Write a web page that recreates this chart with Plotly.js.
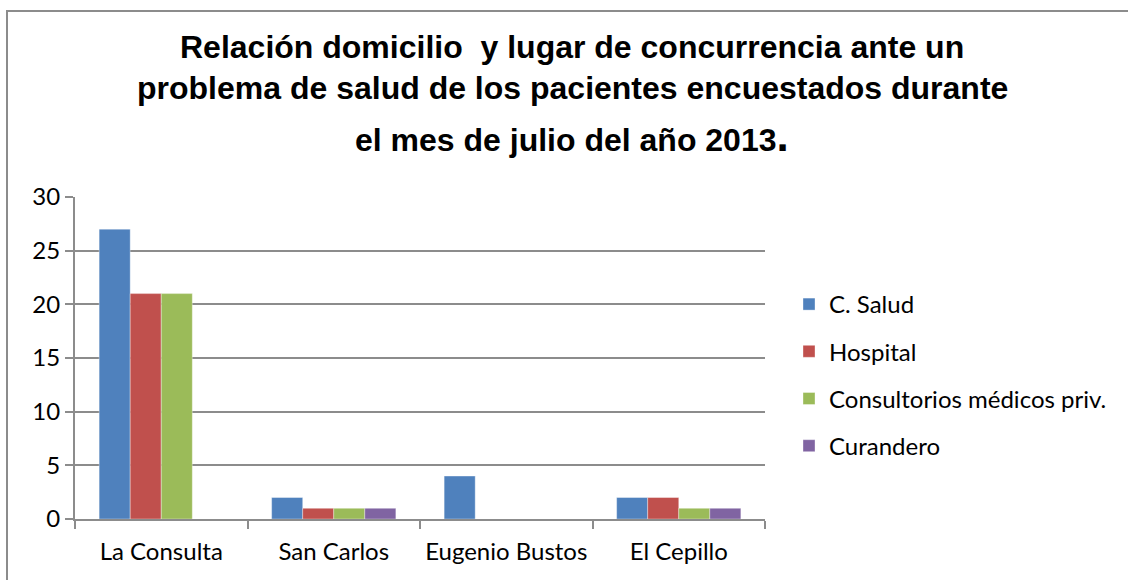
<!DOCTYPE html>
<html>
<head>
<meta charset="utf-8">
<script src="https://cdn.plot.ly/plotly-3.0.1.min.js"></script>
<style>
html,body{margin:0;padding:0;background:#fff;overflow:hidden;}
#frame{position:absolute;left:6px;top:10px;width:1200px;height:600px;border-left:2px solid #8c8c8c;border-top:2px solid #8c8c8c;}
#chart{position:absolute;left:0;top:0;width:1128px;height:580px;}
</style>
</head>
<body>
<div id="frame"></div>
<div id="chart"></div>
<script>
const categories = ["La Consulta", "San Carlos", "Eugenio Bustos", "El Cepillo"];
const seriesNames = ["C. Salud", "Hospital", "Consultorios médicos priv.", "Curandero"];
const cSalud = [27, 2, 4, 2];
const hospital = [21, 1, 0, 2];
const consultorios = [21, 1, 0, 1];
const curandero = [0, 1, 0, 1];
const colors = ["#4F81BD", "#C0504D", "#9BBB59", "#8064A2"];
const yTicks = [0, 5, 10, 15, 20, 25, 30];
const titleLines = [
  "Relación domicilio  y lugar de concurrencia ante un",
  "problema de salud de los pacientes encuestados durante",
  "el mes de julio del año 2013"
];

const values = [cSalud, hospital, consultorios, curandero];
const traces = values.map((v, i) => ({
  type: "bar",
  name: seriesNames[i],
  legendgroup: "g" + i,
  x: categories,
  y: v,
  marker: {color: colors[i], line: {color: "rgba(255,255,255,0.35)", width: 1}},
  hoverinfo: "x+y+name"
}));

// plot area: top 197px, bottom 519px
const plotTop = 197, plotBottom = 519, plotLeft = 75, plotRight = 765;
const py = p => (plotBottom - p) / (plotBottom - plotTop);
const px = p => (p - plotLeft) / (plotRight - plotLeft);
const titleY = [47, 88, 135];

const titleFont = {family: "'Liberation Sans', Arial, sans-serif", size: 32, color: "#000"};
const annotations = titleLines.map((t, i) => ({
  text: "<b>" + t + (i === 2 ? "<span style='font-size:44px'>.</span>" : "") + "</b>",
  xref: "paper", yref: "paper",
  x: px(572), y: py(titleY[i]),
  xanchor: "center", yanchor: "middle",
  showarrow: false,
  font: titleFont
}));

const layout = {
  width: 1128, height: 580,
  paper_bgcolor: "rgba(0,0,0,0)",
  plot_bgcolor: "rgba(0,0,0,0)",
  margin: {l: plotLeft, r: 1128 - plotRight, t: plotTop, b: 580 - plotBottom},
  barmode: "group",
  bargap: 0.28,
  bargroupgap: 0,
  font: {family: "Lato, 'Open Sans', sans-serif", color: "#000", size: 24},
  annotations: annotations,
  xaxis: {
    type: "category",
    showline: true, linecolor: "#8c8c8c", linewidth: 2,
    ticks: "outside", tickson: "boundaries", ticklen: 8, tickcolor: "#8c8c8c", tickwidth: 2,
    ticklabelstandoff: 10,
    showgrid: false,
    tickfont: {size: 24, family: "Lato, 'Open Sans', sans-serif"},
    fixedrange: true
  },
  yaxis: {
    range: [0, 30],
    tickvals: yTicks,
    ticktext: yTicks.map(String),
    showline: true, linecolor: "#8c8c8c", linewidth: 2,
    ticks: "outside", ticklen: 8, tickcolor: "#8c8c8c", tickwidth: 2,
    showgrid: true, gridcolor: "#8c8c8c", gridwidth: 2,
    zeroline: false,
    tickfont: {size: 24, family: "Lato, 'Open Sans', sans-serif"},
    fixedrange: true
  },
  legend: {
    x: px(789), xanchor: "left", y: py(282), yanchor: "top",
    font: {size: 24, family: "Lato, 'Open Sans', sans-serif"},
    tracegroupgap: 13, itemwidth: 30,
    bgcolor: "rgba(0,0,0,0)"
  },
  showlegend: true
};

Plotly.newPlot("chart", traces, layout, {displayModeBar: false, staticPlot: true});
</script>
</body>
</html>
